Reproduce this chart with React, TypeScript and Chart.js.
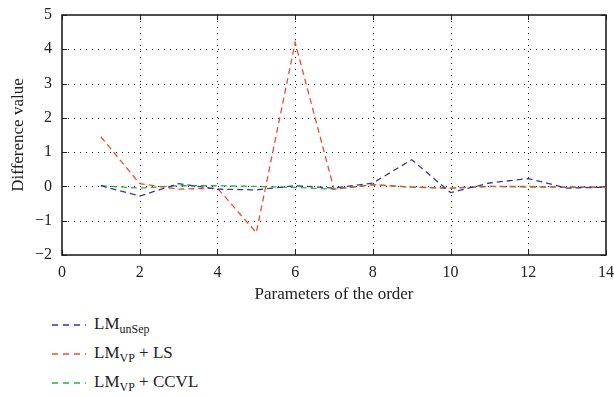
import React, { useEffect, useRef } from "react";
import { Chart, registerables } from "chart.js";

Chart.register(...registerables);

const xValues = [1, 2, 3, 4, 5, 6, 7, 8, 9, 10, 11, 12, 13, 14];
const lmUnSep = [0.02, -0.28, 0.08, -0.08, -0.1, 0.02, -0.05, 0.1, 0.78, -0.18, 0.1, 0.23, -0.05, -0.02];
const lmVpLs = [1.45, 0.08, -0.08, -0.05, -1.35, 4.2, -0.08, 0.05, -0.02, -0.05, 0.0, 0.0, -0.02, -0.02];
const lmVpCcvl = [0.02, -0.05, 0.02, 0.02, 0.0, -0.03, -0.08, 0.05, -0.02, -0.05, 0.0, -0.02, -0.02, -0.02];
const xTicks = [0, 2, 4, 6, 8, 10, 12, 14];
const yTicks = [-2, -1, 0, 1, 2, 3, 4, 5];

const BLUE = "#3b34a0";
const RED = "#f24b35";
const GREEN = "#22b43a";
const FONT = "'Liberation Serif', 'DejaVu Serif', serif";

const frame = {
  id: "frame",
  beforeDatasetsDraw(chart: any) {
    const { ctx, chartArea: a, scales } = chart;
    const xs = scales.x, ys = scales.y;
    ctx.save();
    ctx.strokeStyle = "#222";
    ctx.lineWidth = 1;
    ctx.setLineDash([1, 5]);
    xTicks.forEach((v) => {
      if (v === xTicks[0] || v === xTicks[xTicks.length - 1]) return;
      const px = Math.round(xs.getPixelForValue(v)) + 0.5;
      ctx.beginPath();
      ctx.moveTo(px, a.top);
      ctx.lineTo(px, a.bottom);
      ctx.stroke();
    });
    yTicks.forEach((v) => {
      if (v === yTicks[0] || v === yTicks[yTicks.length - 1]) return;
      const py = Math.round(ys.getPixelForValue(v)) + 0.5;
      ctx.beginPath();
      ctx.moveTo(a.left, py);
      ctx.lineTo(a.right, py);
      ctx.stroke();
    });
    ctx.setLineDash([]);
    ctx.lineWidth = 1;
    xTicks.forEach((v) => {
      const px = Math.round(xs.getPixelForValue(v)) + 0.5;
      ctx.beginPath();
      ctx.moveTo(px, a.bottom);
      ctx.lineTo(px, a.bottom - 5);
      ctx.moveTo(px, a.top);
      ctx.lineTo(px, a.top + 5);
      ctx.stroke();
    });
    yTicks.forEach((v) => {
      const py = Math.round(ys.getPixelForValue(v)) + 0.5;
      ctx.beginPath();
      ctx.moveTo(a.left, py);
      ctx.lineTo(a.left + 5, py);
      ctx.moveTo(a.right, py);
      ctx.lineTo(a.right - 5, py);
      ctx.stroke();
    });
    ctx.lineWidth = 1.6;
    ctx.strokeStyle = "#222";
    ctx.strokeRect(a.left, a.top, a.right - a.left, a.bottom - a.top);
    ctx.restore();
  },
};

function LegendRow({ color, main, sub, rest, top }: any) {
  return (
    <div style={{ position: "absolute", left: 52, top, height: 24, display: "flex", alignItems: "center" }}>
      <svg width={34} height={4} style={{ marginRight: 8 }}>
        <line x1={0} y1={2} x2={34} y2={2} stroke={color} strokeWidth={1.5} strokeDasharray="6,5" />
      </svg>
      <span style={{ fontFamily: FONT, fontSize: 17, color: "#222", whiteSpace: "nowrap" }}>
        {main}
        <sub style={{ fontSize: 12, verticalAlign: "-4px" }}>{sub}</sub>
        {rest}
      </span>
    </div>
  );
}

export default function App() {
  const ref = useRef<HTMLCanvasElement>(null);
  useEffect(() => {
    const mk = (label: string, data: number[], color: string) => ({
      label,
      data: data.map((y, i) => ({ x: xValues[i], y })),
      borderColor: color,
      backgroundColor: color,
      borderWidth: 1.3,
      borderDash: [6, 4],
      pointRadius: 0,
      tension: 0,
    });
    const chart = new Chart(ref.current!, {
      type: "line",
      data: {
        datasets: [
          mk("LMunSep", lmUnSep, BLUE),
          mk("LMVP + LS", lmVpLs, RED),
          mk("LMVP + CCVL", lmVpCcvl, GREEN),
        ],
      },
      plugins: [frame],
      options: {
        animation: false,
        responsive: false,
        maintainAspectRatio: false,
        layout: { padding: { left: 0, right: 8, top: 15, bottom: 0 } },
        plugins: { legend: { display: false }, tooltip: { enabled: false } },
        scales: {
          x: {
            type: "linear",
            min: 0,
            max: 14,
            afterBuildTicks: (s: any) => { s.ticks = xTicks.map((v) => ({ value: v })); },
            afterFit: (s: any) => { s.height = 50; s.paddingLeft = 0; s.paddingRight = 0; },
            grid: { display: false, drawTicks: false },
            border: { display: false },
            ticks: { color: "#222", font: { family: FONT, size: 16 }, padding: 8, maxRotation: 0 },
            title: { display: true, text: "Parameters of the order", color: "#222", font: { family: FONT, size: 17 }, padding: { top: 0, bottom: 0 } },
          },
          y: {
            type: "linear",
            min: -2,
            max: 5,
            afterBuildTicks: (s: any) => { s.ticks = yTicks.map((v) => ({ value: v })); },
            afterFit: (s: any) => { s.width = 62; s.paddingTop = 0; s.paddingBottom = 0; },
            grid: { display: false, drawTicks: false },
            border: { display: false },
            ticks: {
              color: "#222",
              font: { family: FONT, size: 16 },
              padding: 10,
              callback: (v: any) => (v < 0 ? "\u2212" + Math.abs(v) : String(v)),
            },
            title: { display: true, text: "Difference value", color: "#222", font: { family: FONT, size: 17 }, padding: { top: 8, bottom: 0 } },
          },
        },
      },
    });
    return () => chart.destroy();
  }, []);
  return (
    <div style={{ position: "fixed", left: 0, top: 0, width: 614, height: 396, background: "#fff" }}>
      <canvas ref={ref} width={614} height={305} style={{ display: "block", width: 614, height: 305 }} />
      <LegendRow color={BLUE} main="LM" sub="unSep" rest="" top={313} />
      <LegendRow color={RED} main="LM" sub="VP" rest=" + LS" top={342} />
      <LegendRow color={GREEN} main="LM" sub="VP" rest=" + CCVL" top={371} />
    </div>
  );
}
